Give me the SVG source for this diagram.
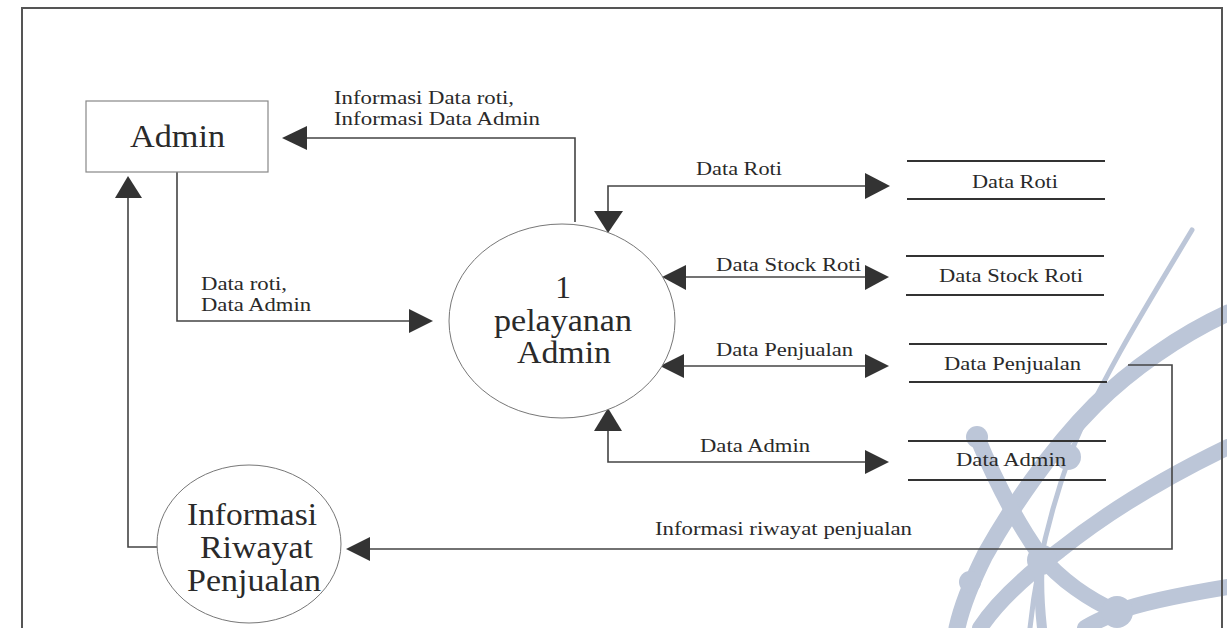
<svg xmlns="http://www.w3.org/2000/svg" width="1227" height="628" viewBox="0 0 1227 628">
<style>
.t{font-family:"Liberation Serif","Times New Roman",serif;fill:#2a2a2a}
.lbl{font-size:19px}
.big{font-size:31.5px}
.st{font-size:19px}
.ln{fill:none;stroke:#444;stroke-width:1.6}
.ds{stroke:#333;stroke-width:2}
.ah{fill:#333}
.wm{fill:none;stroke:#bcc6d8;stroke-linecap:round}
.wb{fill:#bcc6d8}
</style>
<rect x="0" y="0" width="1227" height="628" fill="#fff"/>
<g id="watermark">
<path class="wm" d="M1192,230 C1150,300 1100,380 1072,450 C1050,510 1036,570 1030,628" stroke-width="5"/>
<path class="wm" d="M1228,313 C1180,335 1130,370 1095,405 C1050,450 1010,510 985,555 C970,585 962,605 957,628" stroke-width="17"/>
<path class="wm" d="M1228,447 C1170,475 1110,510 1060,550 C1020,580 995,605 980,628" stroke-width="16"/>
<path class="wm" d="M1228,587 C1180,595 1140,603 1117,612 C1100,620 1090,624 1085,628" stroke-width="16"/>
<path class="wm" d="M977,437 C995,480 1015,520 1040,555 C1060,580 1090,600 1117,612" stroke-width="16"/>
<path class="wm" d="M1040,557 C1038,585 1040,610 1042,628" stroke-width="10"/>
<circle class="wb" cx="977" cy="437" r="11"/>
<circle class="wb" cx="1068" cy="457" r="13"/>
<circle class="wb" cx="970" cy="582" r="11"/>
<circle class="wb" cx="1042" cy="560" r="15"/>
<circle class="wb" cx="1117" cy="612" r="16"/>
</g>
<g id="frame">
<path d="M22,628 V8 H1222 V628" fill="none" stroke="#555" stroke-width="2"/>
</g>
<g id="connectors">
<path class="ln" d="M575,222 V138 H306"/>
<polygon class="ah" points="282,138 307,126 307,150"/>
<text class="t lbl" x="334" y="104" textLength="180" lengthAdjust="spacingAndGlyphs">Informasi Data roti,</text>
<text class="t lbl" x="334" y="125" textLength="206" lengthAdjust="spacingAndGlyphs">Informasi Data Admin</text>

<path class="ln" d="M177,172 V321 H410"/>
<polygon class="ah" points="433,321 409,309 409,333"/>
<text class="t lbl" x="201" y="290" textLength="86" lengthAdjust="spacingAndGlyphs">Data roti,</text>
<text class="t lbl" x="201" y="311" textLength="110" lengthAdjust="spacingAndGlyphs">Data Admin</text>

<path class="ln" d="M157,547 H128 V196"/>
<polygon class="ah" points="128,176 115,198 142,198"/>

<path class="ln" d="M866,186 H608 V212"/>
<polygon class="ah" points="608,233 594,211 623,211"/>
<polygon class="ah" points="890,186 865,173 865,199"/>
<text class="t lbl" x="696" y="175" textLength="86" lengthAdjust="spacingAndGlyphs">Data Roti</text>

<path class="ln" d="M685,277 H866"/>
<polygon class="ah" points="662,277 686,265 686,290"/>
<polygon class="ah" points="889,277 865,265 865,290"/>
<text class="t lbl" x="716" y="271" textLength="145" lengthAdjust="spacingAndGlyphs">Data Stock Roti</text>

<path class="ln" d="M683,366 H866"/>
<polygon class="ah" points="660,366 684,354 684,378"/>
<polygon class="ah" points="889,366 865,354 865,378"/>
<text class="t lbl" x="716" y="356" textLength="137" lengthAdjust="spacingAndGlyphs">Data Penjualan</text>

<path class="ln" d="M866,462 H608 V430"/>
<polygon class="ah" points="608,408 594,431 622,431"/>
<polygon class="ah" points="889,462 865,450 865,474"/>
<text class="t lbl" x="700" y="452" textLength="110" lengthAdjust="spacingAndGlyphs">Data Admin</text>

<path class="ln" d="M1128,365 H1172 V549 H369"/>
<polygon class="ah" points="346,549 370,537 370,561"/>
<text class="t lbl" x="655" y="535" textLength="257" lengthAdjust="spacingAndGlyphs">Informasi riwayat penjualan</text>
</g>
<g id="admin">
<rect x="86" y="101" width="182" height="71" fill="#fff" stroke="#888" stroke-width="1.2"/>
<text class="t big" x="130" y="147" textLength="95" lengthAdjust="spacingAndGlyphs">Admin</text>
</g>
<g id="process1">
<ellipse cx="562" cy="321" rx="113" ry="97" fill="#fff" stroke="#777" stroke-width="1"/>
<text class="t big" x="563" y="298" text-anchor="middle">1</text>
<text class="t big" x="494" y="331" textLength="138" lengthAdjust="spacingAndGlyphs">pelayanan</text>
<text class="t big" x="517" y="363" textLength="94" lengthAdjust="spacingAndGlyphs">Admin</text>
</g>
<g id="riwayat">
<ellipse cx="249" cy="544" rx="92" ry="79" fill="#fff" stroke="#777" stroke-width="1"/>
<text class="t big" x="187" y="525" textLength="130" lengthAdjust="spacingAndGlyphs">Informasi</text>
<text class="t big" x="200" y="558" textLength="113" lengthAdjust="spacingAndGlyphs">Riwayat</text>
<text class="t big" x="187" y="591" textLength="134" lengthAdjust="spacingAndGlyphs">Penjualan</text>
</g>
<g id="store-roti">
<line class="ds" x1="907" y1="161" x2="1105" y2="161"/>
<line class="ds" x1="907" y1="199" x2="1105" y2="199"/>
<text class="t st" x="972" y="188" textLength="86" lengthAdjust="spacingAndGlyphs">Data Roti</text>
</g>
<g id="store-stock">
<line class="ds" x1="906" y1="256" x2="1104" y2="256"/>
<line class="ds" x1="906" y1="295" x2="1104" y2="295"/>
<text class="t st" x="939" y="282" textLength="144" lengthAdjust="spacingAndGlyphs">Data Stock Roti</text>
</g>
<g id="store-penjualan">
<line class="ds" x1="909" y1="344" x2="1107" y2="344"/>
<line class="ds" x1="909" y1="382" x2="1107" y2="382"/>
<text class="t st" x="944" y="370" textLength="137" lengthAdjust="spacingAndGlyphs">Data Penjualan</text>
</g>
<g id="store-admin">
<line class="ds" x1="908" y1="441" x2="1106" y2="441"/>
<line class="ds" x1="908" y1="480" x2="1106" y2="480"/>
<text class="t st" x="956" y="466" textLength="110" lengthAdjust="spacingAndGlyphs">Data Admin</text>
</g>
</svg>
